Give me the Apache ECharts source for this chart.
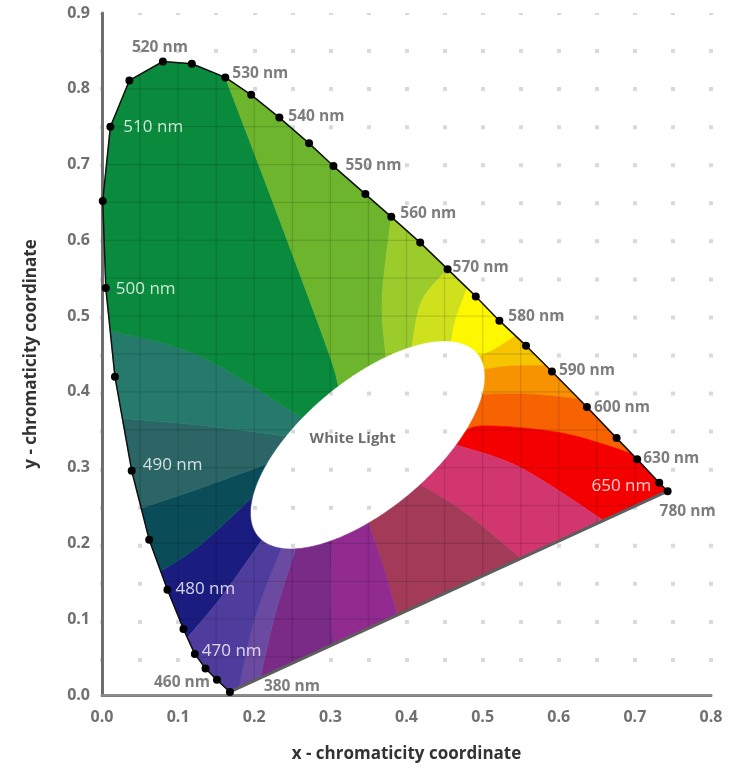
<!DOCTYPE html>
<html><head><meta charset="utf-8">
<script src="https://cdn.jsdelivr.net/npm/echarts@6/dist/echarts.min.js"></script>
<style>html,body{margin:0;padding:0;background:#fff}#c{width:731px;height:768px}</style>
</head><body><div id="c"></div>
<script>
// ---- Spectral locus (chromaticity x, y) ----
const locusWl = [400,455,465,470,475,480,485,490,495,500,505,510,515,520,525,530,535,540,545,550,555,560,565,570,575,580,585,590,600,615,630,650,700];
const locusX  = [0.168,0.151,0.136,0.122,0.107,0.086,0.062,0.039,0.017,0.005,0.001,0.011,0.036,0.080,0.118,0.162,0.196,0.233,0.272,0.304,0.346,0.380,0.418,0.454,0.491,0.522,0.557,0.591,0.637,0.676,0.703,0.732,0.743];
const locusY  = [0.004,0.020,0.035,0.054,0.087,0.139,0.205,0.296,0.420,0.537,0.652,0.750,0.811,0.836,0.833,0.815,0.792,0.762,0.728,0.698,0.661,0.631,0.597,0.562,0.526,0.494,0.461,0.427,0.380,0.339,0.311,0.280,0.269];

// ---- Wavelength labels ----
const labelWl   = [520,530,540,550,560,570,580,590,600,630,700,510,500,490,480,470,650,455,400];
const labelText = ['520 nm','530 nm','540 nm','550 nm','560 nm','570 nm','580 nm','590 nm','600 nm','630 nm','780 nm','510 nm','500 nm','490 nm','480 nm','470 nm','650 nm','460 nm','380 nm'];

// ---- White light region (ellipse) ----
const whiteCenter = [0.349, 0.330];
const whiteAxes   = [0.188, 0.085];
const whiteAngle  = 40;
const whiteText   = 'White Light';

// ---- Colour zone boundaries: outer point on locus, bending points, inner point at white region ----
const boundaryPts = [
  [[0.113,0.076],[0.158,0.131],[0.214,0.208]],
  [[0.079,0.164],[0.129,0.198],[0.204,0.264]],
  [[0.053,0.247],[0.129,0.273],[0.212,0.304]],
  [[0.026,0.365],[0.129,0.356],[0.230,0.343]],
  [[0.011,0.481],[0.129,0.447],[0.257,0.368]],
  [[0.162,0.815],[0.228,0.641],[0.296,0.457],[0.311,0.407]],
  [[0.380,0.631],[0.368,0.523],[0.372,0.442]],
  [[0.454,0.562],[0.420,0.520],[0.405,0.455]],
  [[0.480,0.537],[0.465,0.497],[0.451,0.457]],
  [[0.543,0.474],[0.517,0.457],[0.492,0.444]],
  [[0.583,0.435],[0.534,0.434],[0.500,0.428]],
  [[0.626,0.390],[0.563,0.397],[0.500,0.397]],
  [[0.695,0.319],[0.603,0.346],[0.497,0.355],[0.464,0.339]],
  [[0.659,0.230],[0.550,0.300],[0.454,0.330]],
  [[0.550,0.180],[0.478,0.240],[0.416,0.279]],
  [[0.388,0.106],[0.370,0.168],[0.350,0.230]],
  [[0.304,0.067],[0.300,0.133],[0.300,0.197]],
  [[0.208,0.022],[0.228,0.109],[0.251,0.188]],
  [[0.180,0.009],[0.201,0.102],[0.234,0.192]]
];
// colour of the zone between boundary i and boundary i+1
const zoneColors = ['#1b1c80','#0b4c59','#2b6565','#267a6c','#0a8a3d','#6db52d','#9ccb2c','#cfe01d','#fdf700','#f6c500','#f79200','#f76300','#f50000','#d2366f','#a33b58','#912b8f','#7a2a87','#6b4aa2','#4f3d9d'];

// axes
const xMax = 0.8, yMax = 0.9, gridStep = 0.05;

// ------------------------------------------------------------------
const N = locusX.length;
const perim = locusX.map((x,i)=>[x, locusY[i]]);
const segLen = [], cum = [0];
for (let i=0;i<N;i++){ const a=perim[i], b=perim[(i+1)%N]; const l=Math.hypot(b[0]-a[0],b[1]-a[1]); segLen.push(l); cum.push(cum[i]+l); }
const total = cum[N];
function proj(p){
  let best=Infinity, bs=0, bq=p;
  for (let i=0;i<N;i++){
    const a=perim[i], b=perim[(i+1)%N]; const dx=b[0]-a[0], dy=b[1]-a[1];
    let t=((p[0]-a[0])*dx+(p[1]-a[1])*dy)/(dx*dx+dy*dy); t=Math.max(0,Math.min(1,t));
    const q=[a[0]+t*dx, a[1]+t*dy]; const d=Math.hypot(p[0]-q[0],p[1]-q[1]);
    if (d<best){best=d; bs=cum[i]+t*segLen[i]; bq=q;}
  }
  return {s:bs, q:bq};
}
const th = whiteAngle*Math.PI/180, CO=Math.cos(th), SI=Math.sin(th);
function ellPt(t){ const ca=whiteAxes[0]*Math.cos(t), sb=whiteAxes[1]*Math.sin(t); return [whiteCenter[0]+ca*CO-sb*SI, whiteCenter[1]+ca*SI+sb*CO]; }
function ellParam(p){ const dx=p[0]-whiteCenter[0], dy=p[1]-whiteCenter[1]; const u=dx*CO+dy*SI, v=-dx*SI+dy*CO; return Math.atan2(v/whiteAxes[1], u/whiteAxes[0]); }
function spline(P){
  if (P.length<3) return P.slice();
  const out=[P[0]]; const S=10;
  for (let k=0;k<P.length-1;k++){
    const p0=P[Math.max(0,k-1)], p1=P[k], p2=P[k+1], p3=P[Math.min(P.length-1,k+2)];
    for (let s=1;s<=S;s++){ const t=s/S, t2=t*t, t3=t2*t;
      out.push([0,1].map(d=>0.5*((2*p1[d])+(-p0[d]+p2[d])*t+(2*p0[d]-5*p1[d]+4*p2[d]-p3[d])*t2+(-p0[d]+3*p1[d]-3*p2[d]+p3[d])*t3)));
    }
  }
  return out;
}
const K = boundaryPts.length;
const bInfo = boundaryPts.map(b=>{
  const o=proj(b[0]); const t=ellParam(b[b.length-1]);
  const curve=spline([o.q, ...b.slice(1,b.length-1), ellPt(t)]);
  return {s:o.s, t:t, curve:curve};
});
function zonePoly(i){
  const bi=bInfo[i], bj=bInfo[(i+1)%K];
  const si=bi.s; let sj=bj.s; if (sj<=si) sj+=total;
  const pts=bi.curve.slice().reverse();
  for (let rep=0;rep<2;rep++) for (let v=0;v<N;v++){ const s=cum[v]+rep*total; if (s>si && s<sj) pts.push(perim[v]); }
  bj.curve.forEach(p=>pts.push(p));
  let dt=bi.t-bj.t; while(dt<=0) dt+=2*Math.PI; while(dt>2*Math.PI) dt-=2*Math.PI;
  const M=30; for (let k=1;k<M;k++) pts.push(ellPt(bj.t+dt*k/M));
  return pts;
}
// grid lines clipped to the horseshoe, excluding the white ellipse
function gridSegments(){
  const a=whiteAxes[0], b=whiteAxes[1];
  const Kxx=CO*CO/(a*a)+SI*SI/(b*b), Kyy=SI*SI/(a*a)+CO*CO/(b*b), Kxy=CO*SI/(a*a)-SI*CO/(b*b);
  const out=[];
  function one(f, c){
    const g=1-f; const vals=[];
    for (let i=0;i<N;i++){ const p=perim[i], q=perim[(i+1)%N];
      if ((p[f]-c)*(q[f]-c)<=0 && p[f]!==q[f]) vals.push(p[g]+(c-p[f])/(q[f]-p[f])*(q[g]-p[g])); }
    if (vals.length<2) return;
    const lo=Math.min(...vals), hi=Math.max(...vals);
    const d=c-whiteCenter[f]; const Kf=f===0?Kxx:Kyy, Kg=f===0?Kyy:Kxx;
    const disc=(Kxy*d)*(Kxy*d)-Kg*(Kf*d*d-1);
    let parts=[[lo,hi]];
    if (disc>0){ const r1=whiteCenter[g]+(-Kxy*d-Math.sqrt(disc))/Kg, r2=whiteCenter[g]+(-Kxy*d+Math.sqrt(disc))/Kg;
      parts=[]; if (r1>lo) parts.push([lo,Math.min(hi,r1)]); if (r2<hi) parts.push([Math.max(lo,r2),hi]); }
    parts.forEach(([u,w])=>{ if (w>u){ const p1=[0,0],p2=[0,0]; p1[f]=c;p2[f]=c;p1[g]=u;p2[g]=w; out.push([p1,p2]); } });
  }
  for (let k=1;k*gridStep<xMax-1e-9;k++) one(0,k*gridStep);
  for (let k=1;k*gridStep<yMax-1e-9;k++) one(1,k*gridStep);
  return out;
}

const placement = {
  '520 nm':{a:'center',o:[-3,-14]}, '530 nm':{a:'left',o:[7,-4]}, '540 nm':{a:'left',o:[9,-1]},
  '550 nm':{a:'left',o:[12,0]}, '560 nm':{a:'left',o:[9,-3]}, '570 nm':{a:'left',o:[5,-2]},
  '580 nm':{a:'left',o:[9,-4]}, '590 nm':{a:'left',o:[7,-1]}, '600 nm':{a:'left',o:[7,1]},
  '630 nm':{a:'left',o:[6,-1]}, '780 nm':{a:'left',o:[-8,20]},
  '510 nm':{a:'left',o:[13,0],w:1}, '500 nm':{a:'left',o:[10,1],w:1}, '490 nm':{a:'left',o:[11,-6],w:1},
  '480 nm':{a:'left',o:[8,-1],w:1}, '470 nm':{a:'left',o:[7,-3],w:1}, '650 nm':{a:'right',o:[-8,3],w:1},
  '460 nm':{a:'right',o:[-7,3]}, '380 nm':{a:'left',o:[34,-5]}
};
const FONT = '"Open Sans", "DejaVu Sans", sans-serif';
const labelData = labelText.map((t,i)=>{
  const idx = locusWl.indexOf(labelWl[i]); const pl = placement[t];
  return { value:[locusX[idx], locusY[idx]], name:t,
    label:{ show:true, position:'inside', align:pl.a, verticalAlign:'middle', offset:pl.o, formatter:t,
      color: pl.w?'#ffffff':'#5c5c5c', fontWeight: pl.w?'normal':'bold', fontSize: pl.w?17:15.5, fontFamily:FONT } };
});
labelData.push({ value: whiteCenter, name: whiteText,
  label:{show:true, position:'inside', align:'center', verticalAlign:'middle', offset:[-15,-6], formatter:whiteText,
    color:'#4a4a4a', fontWeight:'bold', fontSize:15, fontFamily:FONT}});

const tickFmt = v => (Math.round(v/gridStep)%2===0 ? v.toFixed(1) : '');
const axisLabelStyle = {color:'#707070', fontWeight:'bold', fontSize:16, fontFamily:FONT, formatter:tickFmt};
const gridH = 768-13-70;
const period = gridH/(yMax/gridStep);

const chart = echarts.init(document.getElementById('c'));
chart.setOption({
  animation:false,
  backgroundColor:'#ffffff',
  grid:{left:102, right:20, top:13, bottom:70, containLabel:false},
  xAxis:[
    {type:'value', min:0, max:xMax, interval:gridStep, position:'bottom',
     axisLine:{show:true, lineStyle:{color:'#7f7f7f', width:3}}, axisTick:{show:false},
     axisLabel:Object.assign({margin:14}, axisLabelStyle),
     splitLine:{show:true, lineStyle:{color:'#d9d9d9', width:4, type:[4, period-4], dashOffset:2}},
     name:'x - chromaticity coordinate', nameLocation:'middle', nameGap:51,
     nameTextStyle:{color:'#333', fontWeight:'bold', fontSize:17, fontFamily:FONT}},
    {type:'value', min:0, max:xMax, position:'top', axisLine:{show:true, lineStyle:{color:'#8c8c8c', width:2}},
     axisTick:{show:false}, axisLabel:{show:false}, splitLine:{show:false}}
  ],
  yAxis:[
    {type:'value', min:0, max:yMax, interval:gridStep, position:'left',
     axisLine:{show:false}, axisTick:{show:false},
     axisLabel:Object.assign({margin:12}, axisLabelStyle), splitLine:{show:false},
     name:'y - chromaticity coordinate', nameLocation:'middle', nameGap:62, nameRotate:90,
     nameTextStyle:{color:'#333', fontWeight:'bold', fontSize:17, fontFamily:FONT}},
    {type:'value', min:0, max:yMax, position:'right', axisLine:{show:true, lineStyle:{color:'#6e6e6e', width:3}},
     axisTick:{show:false}, axisLabel:{show:false}, splitLine:{show:false}}
  ],
  series:[
    {type:'custom', coordinateSystem:'cartesian2d', z:1, silent:true,
     data: zoneColors.map((c,i)=>i),
     renderItem:(params, api)=>{
       const i=params.dataIndex; const pts=zonePoly(i).map(p=>api.coord(p));
       return {type:'polygon', shape:{points:pts}, style:{fill:zoneColors[i], stroke:zoneColors[i], lineWidth:0.6}};
     }},
    {type:'custom', coordinateSystem:'cartesian2d', z:2, silent:true, data:[0],
     renderItem:(params, api)=>{
       const segs=gridSegments();
       return {type:'group', children: segs.map(s=>{ const p1=api.coord(s[0]), p2=api.coord(s[1]);
         return {type:'line', shape:{x1:p1[0],y1:p1[1],x2:p2[0],y2:p2[1]}, style:{stroke:'rgba(0,0,0,0.13)', lineWidth:1.3}}; })};
     }},
    {type:'line', z:3, silent:true, symbol:'none',
     data:[[locusX[0],locusY[0]],[locusX[N-1],locusY[N-1]]],
     lineStyle:{color:'#5e5e5e', width:3}},
    {type:'line', z:4, silent:true, symbol:'circle', symbolSize:8,
     data: locusX.map((x,i)=>[x, locusY[i]]),
     lineStyle:{color:'#111', width:1.5}, itemStyle:{color:'#000'}},
    {type:'scatter', z:6, silent:true, symbolSize:0, data:labelData}
  ]
});
</script></body></html>
